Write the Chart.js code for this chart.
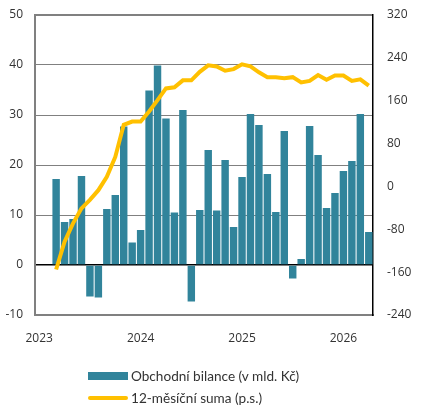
<!DOCTYPE html>
<html>
<head>
<meta charset="utf-8">
<script src="https://cdn.jsdelivr.net/npm/chart.js@4.4.0/dist/chart.umd.min.js"></script>
<style>
  body { margin: 0; background: #fff; }
  #wrap { position: relative; width: 431px; height: 414px; }
  #c { display: block; }
  #legend { position: absolute; left: 88px; top: 365px; font-family: Lato, "Open Sans", sans-serif; font-size: 13.6px; color: #333; }
  .row { display: flex; align-items: center; height: 22px; }
  .sw { width: 40px; margin-right: 3px; }
  .box { height: 8px; background: #31849B; }
  .ln { height: 4px; background: #FFC000; border-radius: 2px; }
</style>
</head>
<body>
<div id="wrap">
  <canvas id="c" width="431" height="414"></canvas>
  <div id="legend"></div>
</div>
<script>
// months Jan 2023 .. Apr 2026
const months = [];
for (let y = 2023; y <= 2026; y++) {
  for (let m = 1; m <= 12; m++) {
    if (y === 2026 && m > 4) break;
    months.push(y + '-' + String(m).padStart(2, '0'));
  }
}

// trade balance, bn CZK (left axis)
const balance = [null, null, 17.2, 8.6, 9.2, 17.8, -6.3, -6.5, 11.2, 14.0, 27.7, 4.5,
  7.0, 34.9, 39.9, 29.3, 10.5, 31.0, -7.3, 11.0, 23.0, 10.9, 21.0, 7.6,
  17.6, 30.2, 28.0, 18.2, 10.6, 26.8, -2.7, 1.2, 27.8, 22.0, 11.4, 14.4,
  18.8, 20.8, 30.2, 6.6];

// 12-month sum (right axis)
const sum12 = [null, null, -155, -103, -69, -41, -25, -7, 18, 55, 115, 121,
  121, 140, 161, 183, 185, 198, 198, 214, 226, 224, 216, 219,
  228, 224, 213, 204, 204, 202, 204, 194, 197, 208, 199, 207,
  207, 197, 200, 188];

const seriesNames = ['Obchodní bilance (v mld. Kč)', '12-měsíční suma (p.s.)'];
const barColor = '#31849B';
const lineColor = '#FFC000';

const tickFont = { family: '"Open Sans", sans-serif', size: 12 };

// pin the plot box: left 35, right 373, top 15, bottom 315
function fixWidth(w) {
  return function (s) { s.width = w; s.paddingTop = 0; s.paddingBottom = 0; };
}

new Chart(document.getElementById('c'), {
  type: 'bar',
  data: {
    labels: months,
    datasets: [
      {
        type: 'line',
        label: seriesNames[1],
        data: sum12,
        yAxisID: 'y1',
        borderColor: lineColor,
        borderWidth: 4,
        pointRadius: 0,
        tension: 0,
        order: 0
      },
      {
        label: seriesNames[0],
        data: balance,
        backgroundColor: barColor,
        yAxisID: 'y',
        barPercentage: 0.88,
        categoryPercentage: 1,
        order: 1
      }
    ]
  },
  options: {
    responsive: false,
    animation: false,
    layout: { padding: { left: 0, right: 0, top: 15, bottom: 0 } },
    plugins: { legend: { display: false }, tooltip: { enabled: false } },
    scales: {
      x: {
        grid: { display: false, drawTicks: false },
        border: { color: '#808080', width: 2 },
        afterFit: function (s) { s.height = 99; s.paddingLeft = 0; s.paddingRight = 0; },
        ticks: {
          autoSkip: false,
          maxRotation: 0,
          padding: 16,
          color: '#333',
          font: tickFont,
          callback: function (v, i) {
            const lab = months[i];
            return lab.endsWith('-01') ? lab.slice(0, 4) : '';
          }
        }
      },
      y: {
        position: 'left',
        min: -10,
        max: 50,
        afterFit: fixWidth(35),
        ticks: { stepSize: 10, padding: 12, color: '#333', font: tickFont },
        border: { color: '#808080', width: 2 },
        grid: {
          drawTicks: false,
          color: c => c.tick.value === 0 ? '#000' : '#808080',
          lineWidth: c => (c.tick.value === 50 ? 2 : c.tick.value === 0 ? 1.5 : 1)
        }
      },
      y1: {
        position: 'right',
        min: -240,
        max: 320,
        afterFit: fixWidth(58),
        ticks: { stepSize: 80, padding: 14, color: '#333', font: tickFont },
        border: { color: '#000', width: 1.5 },
        grid: { drawOnChartArea: false, drawTicks: false }
      }
    }
  }
});

// legend
const lg = document.getElementById('legend');
lg.innerHTML =
  '<div class="row"><div class="sw box"></div><span>' + seriesNames[0] + '</span></div>' +
  '<div class="row"><div class="sw ln"></div><span>' + seriesNames[1] + '</span></div>';
</script>
</body>
</html>
